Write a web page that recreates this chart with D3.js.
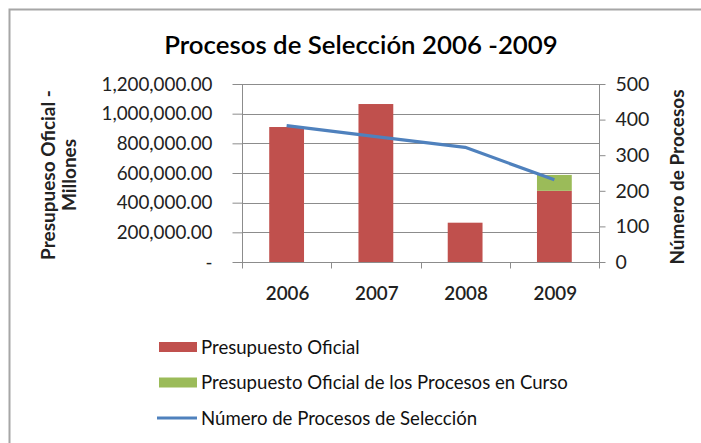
<!DOCTYPE html>
<html>
<head>
<meta charset="utf-8">
<script src="https://cdn.jsdelivr.net/npm/d3@7"></script>
<style>
  html, body { margin: 0; padding: 0; background: #fff; }
  svg { display: block; font-family: Lato, "Open Sans", sans-serif; }
</style>
</head>
<body>
<svg id="chart" width="701" height="443"></svg>
<script>
// Data
const years = ["2006", "2007", "2008", "2009"];
const presupuestoOficial = [910000, 1065000, 265000, 480000];
const presupuestoEnCurso = [0, 0, 0, 107000];
const numeroProcesos = [383, 352, 322, 231];
const leftTicks = [0, 200000, 400000, 600000, 800000, 1000000, 1200000];
const rightTicks = [0, 100, 200, 300, 400, 500];

const colors = { oficial: "#C0504D", curso: "#9BBB59", linea: "#4F81BD" };

const svg = d3.select("#chart");

// Outer chart frame
svg.append("path")
  .attr("d", "M9.5,443 V9.5 H701")
  .attr("fill", "none").attr("stroke", "#a6a6a6").attr("stroke-width", 2);

const plot = { left: 242, right: 599, top: 84, bottom: 262 };

const x = d3.scaleBand().domain(years).range([plot.left, plot.right]).paddingInner(0.61).paddingOuter(0.305);
const xBand = d3.scaleBand().domain(years).range([plot.left, plot.right]);
const yL = d3.scaleLinear().domain([0, 1200000]).range([plot.bottom, plot.top]);
const yR = d3.scaleLinear().domain([0, 500]).range([plot.bottom, plot.top]);

// Title
svg.append("text")
  .attr("x", 361).attr("y", 54)
  .attr("text-anchor", "middle")
  .attr("font-size", 25.8).attr("font-weight", 600).attr("fill", "#000")
  .text("Procesos de Selección 2006 -2009");

// Gridlines
svg.append("g").selectAll("line").data(leftTicks.slice(1)).join("line")
  .attr("x1", plot.left).attr("x2", plot.right)
  .attr("y1", d => Math.round(yL(d)) + 0.5).attr("y2", d => Math.round(yL(d)) + 0.5)
  .attr("stroke", "#8c8c8c").attr("stroke-width", 1);

// Left axis
const fmtL = d => d === 0 ? "-" : d3.format(",.2f")(d);
const axL = svg.append("g").attr("transform", `translate(${plot.left + 0.5},0)`)
  .call(d3.axisLeft(yL).tickValues(leftTicks).tickFormat(fmtL).tickSize(10).tickPadding(20));
axL.select(".domain").attr("stroke", "#8c8c8c").attr("d", `M0,${plot.top}V${plot.bottom}`);
axL.selectAll(".tick line").attr("stroke", "#8c8c8c");
axL.selectAll(".tick text").attr("font-size", 18.8).attr("fill", "#222").attr("font-family", "Lato, sans-serif");

// Right axis
const axR = svg.append("g").attr("transform", `translate(${plot.right + 0.5},0)`)
  .call(d3.axisRight(yR).tickValues(rightTicks).tickFormat(d3.format("d")).tickSize(6).tickPadding(10));
axR.select(".domain").attr("stroke", "#8c8c8c").attr("d", `M0,${plot.top}V${plot.bottom}`);
axR.selectAll(".tick line").attr("stroke", "#8c8c8c");
axR.selectAll(".tick text").attr("font-size", 19.5).attr("fill", "#222").attr("font-family", "Lato, sans-serif");

// Bottom axis with ticks on category boundaries
const axB = svg.append("g").attr("transform", `translate(0,${plot.bottom + 0.5})`);
axB.append("line").attr("x1", plot.left).attr("x2", plot.right + 6)
  .attr("stroke", "#8c8c8c");
const bounds = years.map(y => xBand(y)).concat([plot.right]);
axB.selectAll("line.tk").data(bounds).join("line").attr("class", "tk")
  .attr("x1", d => Math.round(d) + 0.5).attr("x2", d => Math.round(d) + 0.5)
  .attr("y1", 0).attr("y2", 6).attr("stroke", "#8c8c8c");
axB.selectAll("text").data(years).join("text")
  .attr("x", d => xBand(d) + xBand.bandwidth() / 2 + 1)
  .attr("y", 37)
  .attr("text-anchor", "middle").attr("font-size", 18.8).attr("font-weight", 600).attr("fill", "#222")
  .text(d => d);

// Bars: official budget and budget of processes in course, stacked
svg.append("g").selectAll("rect").data(years).join("rect")
  .attr("x", d => x(d)).attr("width", x.bandwidth())
  .attr("y", (d, i) => yL(presupuestoOficial[i]))
  .attr("height", (d, i) => yL(0) - yL(presupuestoOficial[i]))
  .attr("fill", colors.oficial);
svg.append("g").selectAll("rect").data(years).join("rect")
  .attr("x", d => x(d)).attr("width", x.bandwidth())
  .attr("y", (d, i) => yL(presupuestoOficial[i] + presupuestoEnCurso[i]))
  .attr("height", (d, i) => yL(presupuestoOficial[i]) - yL(presupuestoOficial[i] + presupuestoEnCurso[i]))
  .attr("fill", colors.curso);

// Line: number of selection processes
const line = d3.line()
  .x((d, i) => xBand(years[i]) + xBand.bandwidth() / 2)
  .y(d => yR(d));
svg.append("path").datum(numeroProcesos)
  .attr("d", line).attr("fill", "none")
  .attr("stroke", colors.linea).attr("stroke-width", 3.2).attr("stroke-linejoin", "round");

// Axis titles
svg.append("text")
  .attr("transform", "translate(55,175) rotate(-90)")
  .attr("text-anchor", "middle").attr("font-size", 19).attr("font-weight", 700).attr("fill", "#222")
  .text("Presupueso Oficial -");
svg.append("text")
  .attr("transform", "translate(76,175) rotate(-90)")
  .attr("text-anchor", "middle").attr("font-size", 19).attr("font-weight", 700).attr("fill", "#222")
  .text("Millones");
svg.append("text")
  .attr("transform", "translate(684,177) rotate(-90)")
  .attr("text-anchor", "middle").attr("font-size", 19).attr("font-weight", 700).attr("fill", "#222")
  .text("Número de Procesos");

// Legend
const legendItems = [
  { label: "Presupuesto Oficial", color: colors.oficial, type: "rect" },
  { label: "Presupuesto Oficial de los Procesos en Curso", color: colors.curso, type: "rect" },
  { label: "Número de Procesos de Selección", color: colors.linea, type: "line" }
];
const lg = svg.append("g").selectAll("g").data(legendItems).join("g")
  .attr("transform", (d, i) => `translate(0,${347 + i * 35.5})`);
lg.filter(d => d.type === "rect").append("rect")
  .attr("x", 159).attr("y", -5).attr("width", 38).attr("height", 10)
  .attr("fill", d => d.color);
lg.filter(d => d.type === "line").append("line")
  .attr("x1", 157).attr("x2", 197).attr("y1", 0).attr("y2", 0)
  .attr("stroke", d => d.color).attr("stroke-width", 3);
lg.append("text")
  .attr("x", 201).attr("y", 6.5)
  .attr("font-size", 18.6).attr("fill", "#111")
  .text(d => d.label);
</script>
</body>
</html>
